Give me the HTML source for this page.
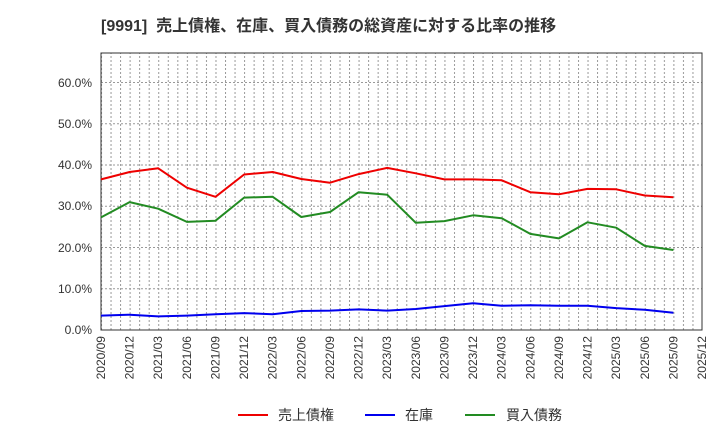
<!DOCTYPE html>
<html><head><meta charset="utf-8"><style>
body{margin:0;background:#fff;}
svg{display:block;font-family:"Liberation Sans","Noto Sans CJK JP",sans-serif;}
</style></head><body>
<svg width="720" height="440" viewBox="0 0 720 440">
<defs>
<pattern id="vg" x="101" y="0" width="9.5397" height="440" patternUnits="userSpaceOnUse">
<line x1="0.5" y1="0" x2="0.5" y2="440" stroke="#999" stroke-width="1" stroke-dasharray="2,2"/>
</pattern>
</defs>
<text x="101" y="31" font-size="16" font-weight="bold" fill="#333" xml:space="preserve">[9991]  売上債権、在庫、買入債務の総資産に対する比率の推移</text>
<rect x="101" y="53" width="601" height="277" fill="url(#vg)"/>
<g stroke="#999" stroke-dasharray="2,2" stroke-width="1">
<line x1="101" x2="702" y1="288.75" y2="288.75"/>
<line x1="101" x2="702" y1="247.5" y2="247.5"/>
<line x1="101" x2="702" y1="206.25" y2="206.25"/>
<line x1="101" x2="702" y1="165" y2="165"/>
<line x1="101" x2="702" y1="123.75" y2="123.75"/>
<line x1="101" x2="702" y1="82.5" y2="82.5"/>
</g>
<rect x="101" y="53" width="601" height="277" fill="none" stroke="#333" stroke-width="1"/>
<g font-size="12" fill="#333" text-anchor="end">
<text x="92" y="334">0.0%</text>
<text x="92" y="293">10.0%</text>
<text x="92" y="252">20.0%</text>
<text x="92" y="210">30.0%</text>
<text x="92" y="169">40.0%</text>
<text x="92" y="128">50.0%</text>
<text x="92" y="87">60.0%</text>
</g>
<g font-size="12" fill="#333" text-anchor="end">
<text transform="translate(105,336) rotate(-90)">2020/09</text>
<text transform="translate(133.6,336) rotate(-90)">2020/12</text>
<text transform="translate(162.2,336) rotate(-90)">2021/03</text>
<text transform="translate(190.9,336) rotate(-90)">2021/06</text>
<text transform="translate(219.5,336) rotate(-90)">2021/09</text>
<text transform="translate(248.1,336) rotate(-90)">2021/12</text>
<text transform="translate(276.7,336) rotate(-90)">2022/03</text>
<text transform="translate(305.3,336) rotate(-90)">2022/06</text>
<text transform="translate(334,336) rotate(-90)">2022/09</text>
<text transform="translate(362.6,336) rotate(-90)">2022/12</text>
<text transform="translate(391.2,336) rotate(-90)">2023/03</text>
<text transform="translate(419.8,336) rotate(-90)">2023/06</text>
<text transform="translate(448.4,336) rotate(-90)">2023/09</text>
<text transform="translate(477.1,336) rotate(-90)">2023/12</text>
<text transform="translate(505.7,336) rotate(-90)">2024/03</text>
<text transform="translate(534.3,336) rotate(-90)">2024/06</text>
<text transform="translate(562.9,336) rotate(-90)">2024/09</text>
<text transform="translate(591.5,336) rotate(-90)">2024/12</text>
<text transform="translate(620.2,336) rotate(-90)">2025/03</text>
<text transform="translate(648.8,336) rotate(-90)">2025/06</text>
<text transform="translate(677.4,336) rotate(-90)">2025/09</text>
<text transform="translate(706,336) rotate(-90)">2025/12</text>
</g>
<g fill="none" stroke-width="2" stroke-linejoin="round">
<polyline stroke="#e00" points="101,179.4 129.6,172 158.2,168.3 186.9,187.7 215.5,196.8 244.1,174.5 272.7,172 301.3,179 330,182.7 358.6,174.1 387.2,167.9 415.8,173.3 444.4,179.4 473.1,179.4 501.7,180.3 530.3,192.2 558.9,194.3 587.5,188.9 616.2,189.3 644.8,195.5 673.4,197.2"/>
<polyline stroke="#0000ee" points="101,315.6 129.6,314.7 158.2,316.4 186.9,315.6 215.5,314.3 244.1,313.1 272.7,314.3 301.3,311 330,310.6 358.6,309.4 387.2,310.6 415.8,309 444.4,306.1 473.1,303.2 501.7,305.7 530.3,305.3 558.9,305.7 587.5,305.7 616.2,308.1 644.8,309.8 673.4,312.7"/>
<polyline stroke="#228b22" points="101,217.4 129.6,202.1 158.2,208.7 186.9,221.9 215.5,220.7 244.1,197.6 272.7,196.8 301.3,217 330,212 358.6,192.2 387.2,194.7 415.8,222.8 444.4,221.1 473.1,215.3 501.7,218.2 530.3,233.9 558.9,238.4 587.5,222.3 616.2,227.7 644.8,245.9 673.4,250"/>
</g>
<g font-size="14" fill="#333">
<line x1="238" x2="268" y1="415" y2="415" stroke="#e00" stroke-width="2"/>
<text x="278" y="420">売上債権</text>
<line x1="365" x2="395" y1="415" y2="415" stroke="#0000ee" stroke-width="2"/>
<text x="405" y="420">在庫</text>
<line x1="465" x2="495" y1="415" y2="415" stroke="#228b22" stroke-width="2"/>
<text x="506" y="420">買入債務</text>
</g>
</svg>
</body></html>
